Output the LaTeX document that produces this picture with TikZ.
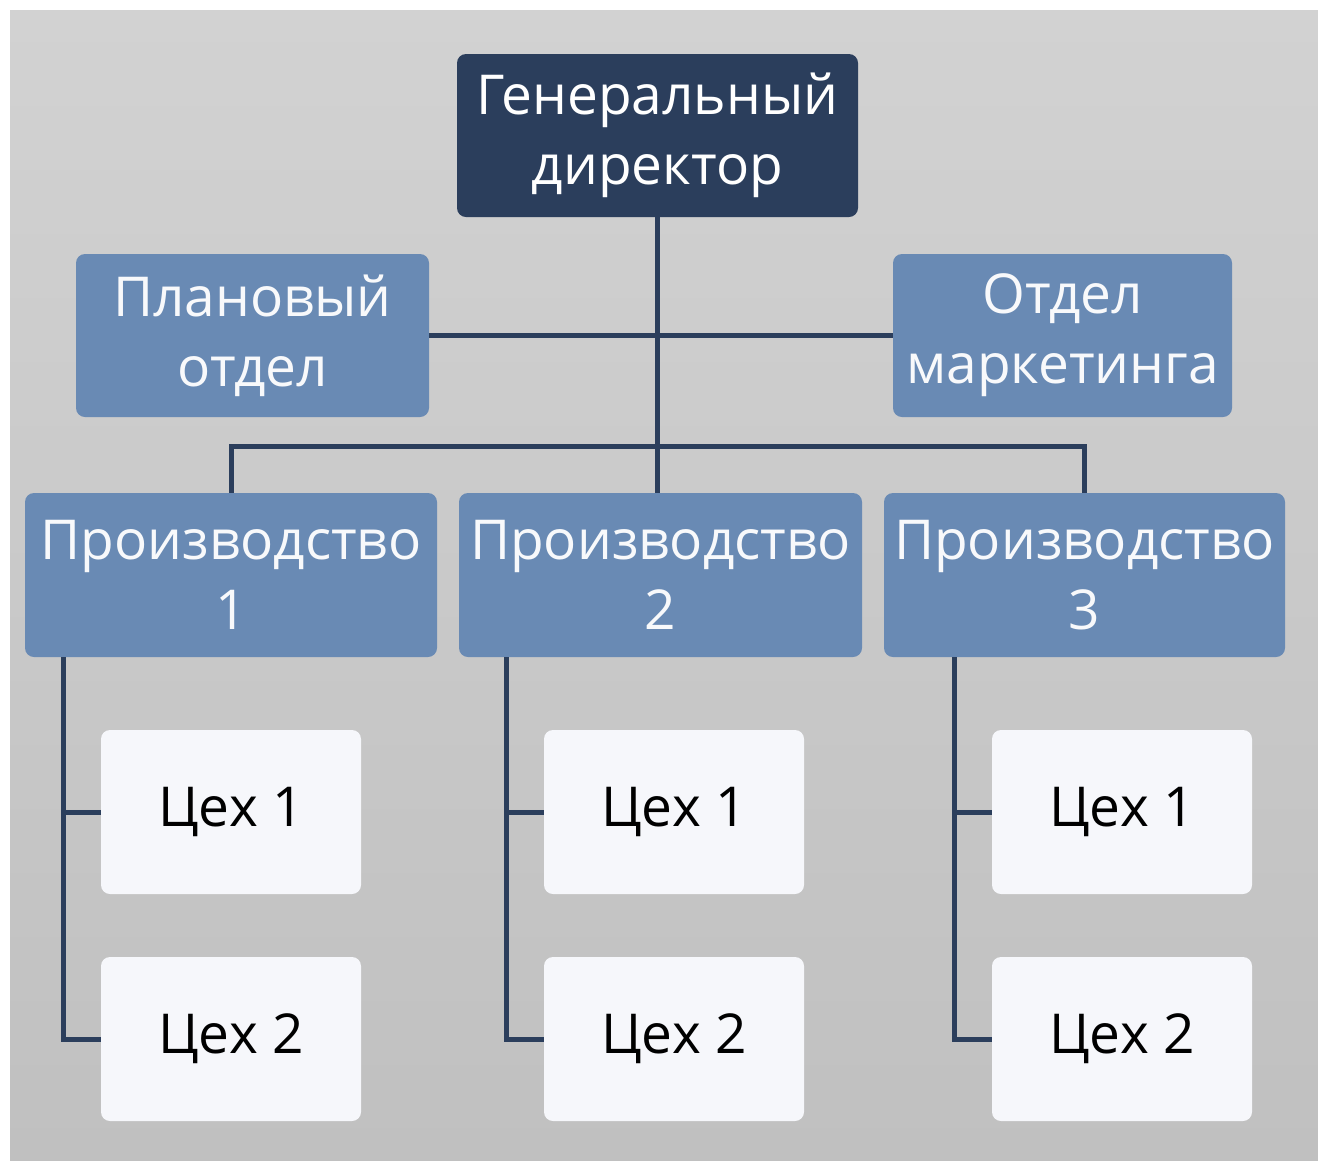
\documentclass[tikz,border=0pt]{standalone}
\usepackage{fontspec}
\setmainfont{Open Sans}
\definecolor{navy}{RGB}{43,62,92}
\definecolor{steel}{RGB}{105,138,180}
\definecolor{paper}{RGB}{246,247,251}
\definecolor{bgtop}{RGB}{210,210,210}
\definecolor{bgbot}{RGB}{192,192,192}
\begin{document}
\begin{tikzpicture}[x=1pt, y=-1pt,
  box/.style={rectangle, rounded corners=9pt, inner sep=0pt, align=center,
    font=\fontsize{55}{70}\selectfont},
  head/.style={box, fill=navy, text=white, minimum width=401pt, minimum height=163pt},
  dept/.style={box, fill=steel, text=white!95!steel, minimum height=163pt},
  shop/.style={box, fill=paper, text=black, minimum width=260pt, minimum height=164pt},
  link/.style={draw=navy, line width=5pt}]
\useasboundingbox (0,0) rectangle (1318,1160);
\fill[white] (0,0) rectangle (1318,1160);
\shade[top color=bgtop, bottom color=bgbot] (10,10) rectangle (1318,1160);
% top level
\node[head] (gd) at (657.5,135.5) {Генеральный\\директор};
\node[dept, minimum width=353pt] (plan) at (252.5,335.5) {Плановый\\отдел};
\node[dept, minimum width=339pt] (mark) at (1062.5,335.5) {Отдел\\маркетинга};
% production
\node[dept, minimum width=412pt, minimum height=164pt] (prod1) at (231,575) {Производство\\1};
\node[dept, minimum width=403pt, minimum height=164pt] (prod2) at (660.5,575) {Производство\\2};
\node[dept, minimum width=401pt, minimum height=164pt] (prod3) at (1084.5,575) {Производство\\3};
\coordinate (bus) at (657,446);
\draw[link](gd.south -| bus) -- (prod2.north -| bus);
\draw[link](plan.east) -- (mark.west);
\draw[link](prod1.north) |- (bus) -| (prod3.north);
% shops
\foreach \i/\x in {1/231, 2/674, 3/1122} {
  \node[shop] (shop\i a) at (\x,812) {Цех 1};
  \node[shop] (shop\i b) at (\x,1039) {Цех 2};
  \coordinate (rail\i) at ([xshift=-37pt]shop\i a.west);
  \draw[link](rail\i |- prod\i.south) |- (shop\i b.west);
  \draw[link](rail\i) -- (shop\i a.west);
}
\end{tikzpicture}
\end{document}
